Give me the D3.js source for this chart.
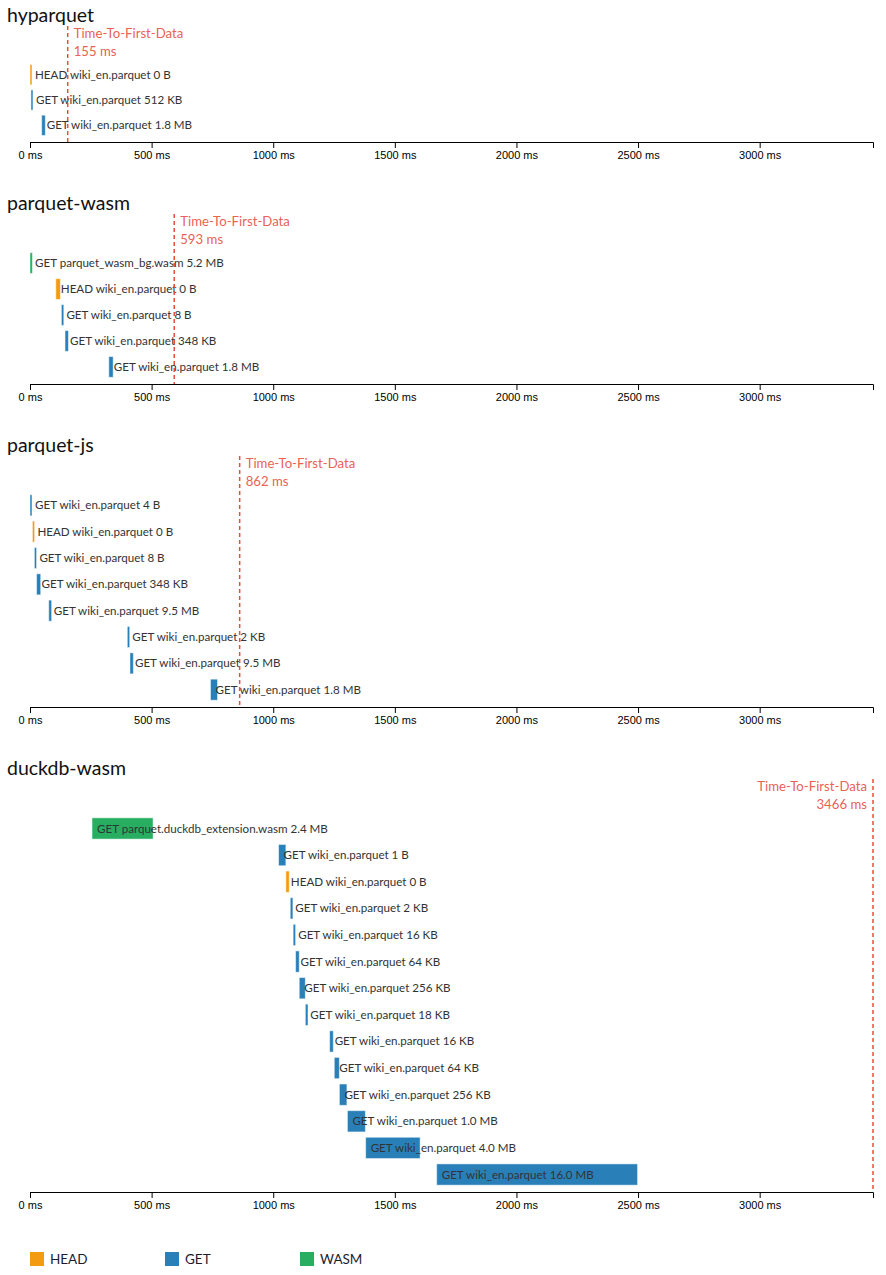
<!DOCTYPE html>
<html>
<head>
<meta charset="utf-8">
<script src="https://cdn.jsdelivr.net/npm/d3@7"></script>
<style>
  body { margin: 0; background: #fff; }
  svg { display: block; font-family: Lato, "Noto Sans", sans-serif; }
</style>
</head>
<body>
<div id="chart"></div>
<script>
// request timings in ms
var libraries = ["hyparquet", "parquet-wasm", "parquet-js", "duckdb-wasm"];
var firstData = [155, 593, 862, 3466];

var hyparquetReqs = [
  { kind: "HEAD", method: "HEAD", file: "wiki_en.parquet", size: "0 B", start: 0, end: 8 },
  { kind: "GET", method: "GET", file: "wiki_en.parquet", size: "512 KB", start: 4, end: 12 },
  { kind: "GET", method: "GET", file: "wiki_en.parquet", size: "1.8 MB", start: 48, end: 63 }
];
var parquetWasmReqs = [
  { kind: "WASM", method: "GET", file: "parquet_wasm_bg.wasm", size: "5.2 MB", start: 0, end: 10 },
  { kind: "HEAD", method: "HEAD", file: "wiki_en.parquet", size: "0 B", start: 106, end: 125 },
  { kind: "GET", method: "GET", file: "wiki_en.parquet", size: "8 B", start: 129, end: 139 },
  { kind: "GET", method: "GET", file: "wiki_en.parquet", size: "348 KB", start: 144, end: 158 },
  { kind: "GET", method: "GET", file: "wiki_en.parquet", size: "1.8 MB", start: 324, end: 342 }
];
var parquetJsReqs = [
  { kind: "GET", method: "GET", file: "wiki_en.parquet", size: "4 B", start: 0, end: 8 },
  { kind: "HEAD", method: "HEAD", file: "wiki_en.parquet", size: "0 B", start: 10, end: 19 },
  { kind: "GET", method: "GET", file: "wiki_en.parquet", size: "8 B", start: 18, end: 27 },
  { kind: "GET", method: "GET", file: "wiki_en.parquet", size: "348 KB", start: 27, end: 44 },
  { kind: "GET", method: "GET", file: "wiki_en.parquet", size: "9.5 MB", start: 77, end: 89 },
  { kind: "GET", method: "GET", file: "wiki_en.parquet", size: "2 KB", start: 400, end: 410 },
  { kind: "GET", method: "GET", file: "wiki_en.parquet", size: "9.5 MB", start: 411, end: 425 },
  { kind: "GET", method: "GET", file: "wiki_en.parquet", size: "1.8 MB", start: 742, end: 771 }
];
var duckdbReqs = [
  { kind: "WASM", method: "GET", file: "parquet.duckdb_extension.wasm", size: "2.4 MB", start: 255, end: 506 },
  { kind: "GET", method: "GET", file: "wiki_en.parquet", size: "1 B", start: 1022, end: 1052 },
  { kind: "HEAD", method: "HEAD", file: "wiki_en.parquet", size: "0 B", start: 1052, end: 1066 },
  { kind: "GET", method: "GET", file: "wiki_en.parquet", size: "2 KB", start: 1070, end: 1081 },
  { kind: "GET", method: "GET", file: "wiki_en.parquet", size: "16 KB", start: 1082, end: 1092 },
  { kind: "GET", method: "GET", file: "wiki_en.parquet", size: "64 KB", start: 1092, end: 1107 },
  { kind: "GET", method: "GET", file: "wiki_en.parquet", size: "256 KB", start: 1107, end: 1132 },
  { kind: "GET", method: "GET", file: "wiki_en.parquet", size: "18 KB", start: 1132, end: 1143 },
  { kind: "GET", method: "GET", file: "wiki_en.parquet", size: "16 KB", start: 1232, end: 1247 },
  { kind: "GET", method: "GET", file: "wiki_en.parquet", size: "64 KB", start: 1251, end: 1272 },
  { kind: "GET", method: "GET", file: "wiki_en.parquet", size: "256 KB", start: 1272, end: 1303 },
  { kind: "GET", method: "GET", file: "wiki_en.parquet", size: "1.0 MB", start: 1305, end: 1379 },
  { kind: "GET", method: "GET", file: "wiki_en.parquet", size: "4.0 MB", start: 1380, end: 1604 },
  { kind: "GET", method: "GET", file: "wiki_en.parquet", size: "16.0 MB", start: 1672, end: 2498 }
];
var requests = [hyparquetReqs, parquetWasmReqs, parquetJsReqs, duckdbReqs];

var kinds = ["HEAD", "GET", "WASM"];
var kindColors = ["#f39c12", "#2980b9", "#27ae60"];
var tickValues = [0, 500, 1000, 1500, 2000, 2500, 3000];

var width = 886, height = 1275;
var rowH = 27;
var color = d3.scaleOrdinal().domain(kinds).range(kindColors);

var svg = d3.select("#chart").append("svg")
    .attr("width", width)
    .attr("height", height);

// same time scale for all panels
var x = d3.scaleLinear()
    .domain([0, d3.max(firstData)])
    .range([30, 873]);

var panelTop = 0;
libraries.forEach(function(name, p) {
  var reqs = requests[p];
  var g = svg.append("g").attr("transform", "translate(0," + panelTop + ")");

  g.append("text")
      .attr("x", 7)
      .attr("y", 22)
      .attr("fill", "#111")
      .style("font-size", "19.5px")
      .text(name);

  var y = d3.scaleBand()
      .domain(d3.range(reqs.length))
      .range([59.5, 59.5 + reqs.length * rowH])
      .padding(0.2);
  var axisY = 59.5 + reqs.length * rowH + 1.5;

  g.selectAll("rect.bar")
    .data(reqs)
    .join("rect")
      .attr("class", "bar")
      .attr("x", function(d) { return x(d.start); })
      .attr("y", function(d, i) { return y(i); })
      .attr("width", function(d) { return Math.max(2, x(d.end) - x(d.start)); })
      .attr("height", y.bandwidth())
      .attr("fill", function(d) { return color(d.kind); })
      .attr("stroke", "#fff")
      .attr("stroke-opacity", 0.5)
      .attr("stroke-width", 1);

  g.selectAll("text.lbl")
    .data(reqs)
    .join("text")
      .attr("class", "lbl")
      .attr("x", function(d) { return x(d.start) + 5; })
      .attr("y", function(d, i) { return y(i) + y.bandwidth() / 2; })
      .attr("dy", "0.35em")
      .attr("fill", "#333")
      .style("font-size", "11.6px")
      .text(function(d) { return d.method + " " + d.file + " " + d.size; });

  g.append("g")
      .attr("transform", "translate(0," + axisY + ")")
      .call(d3.axisBottom(x)
        .tickValues(tickValues)
        .tickFormat(function(d) { return d + " ms"; }))
      .call(function(a) {
        a.selectAll("text")
          .style("font-family", "'Liberation Sans', Arial, sans-serif")
          .style("font-size", "11px")
          .attr("fill", "#000");
      });

  // time to first data marker
  var tx = x(firstData[p]);
  var nearEnd = tx > width - 150;
  g.append("line")
      .attr("x1", tx).attr("x2", tx)
      .attr("y1", 26).attr("y2", axisY)
      .attr("stroke", "#e74c3c")
      .attr("stroke-width", 1.5)
      .attr("stroke-dasharray", "4,3");
  var lbl = g.append("text")
      .attr("fill", "#e74c3c")
      .attr("fill-opacity", 0.9)
      .style("font-size", "13.2px")
      .attr("text-anchor", nearEnd ? "end" : "start");
  lbl.append("tspan")
      .attr("x", nearEnd ? tx - 6 : tx + 6)
      .attr("y", 38)
      .text("Time-To-First-Data");
  lbl.append("tspan")
      .attr("x", nearEnd ? tx - 6 : tx + 6)
      .attr("y", 56)
      .text(firstData[p] + " ms");

  panelTop += axisY + 46;
});

// legend
var legend = svg.append("g")
    .attr("transform", "translate(30,1252)");
var item = legend.selectAll("g")
  .data(kinds)
  .join("g")
    .attr("transform", function(d, i) { return "translate(" + (i * 135) + ",0)"; });
item.append("rect")
    .attr("width", 14)
    .attr("height", 14)
    .attr("fill", function(d) { return color(d); });
item.append("text")
    .attr("x", 20)
    .attr("y", 7)
    .attr("dy", "0.35em")
    .attr("fill", "#1c1c2e")
    .style("font-size", "13.5px")
    .text(function(d) { return d; });
</script>
</body>
</html>
